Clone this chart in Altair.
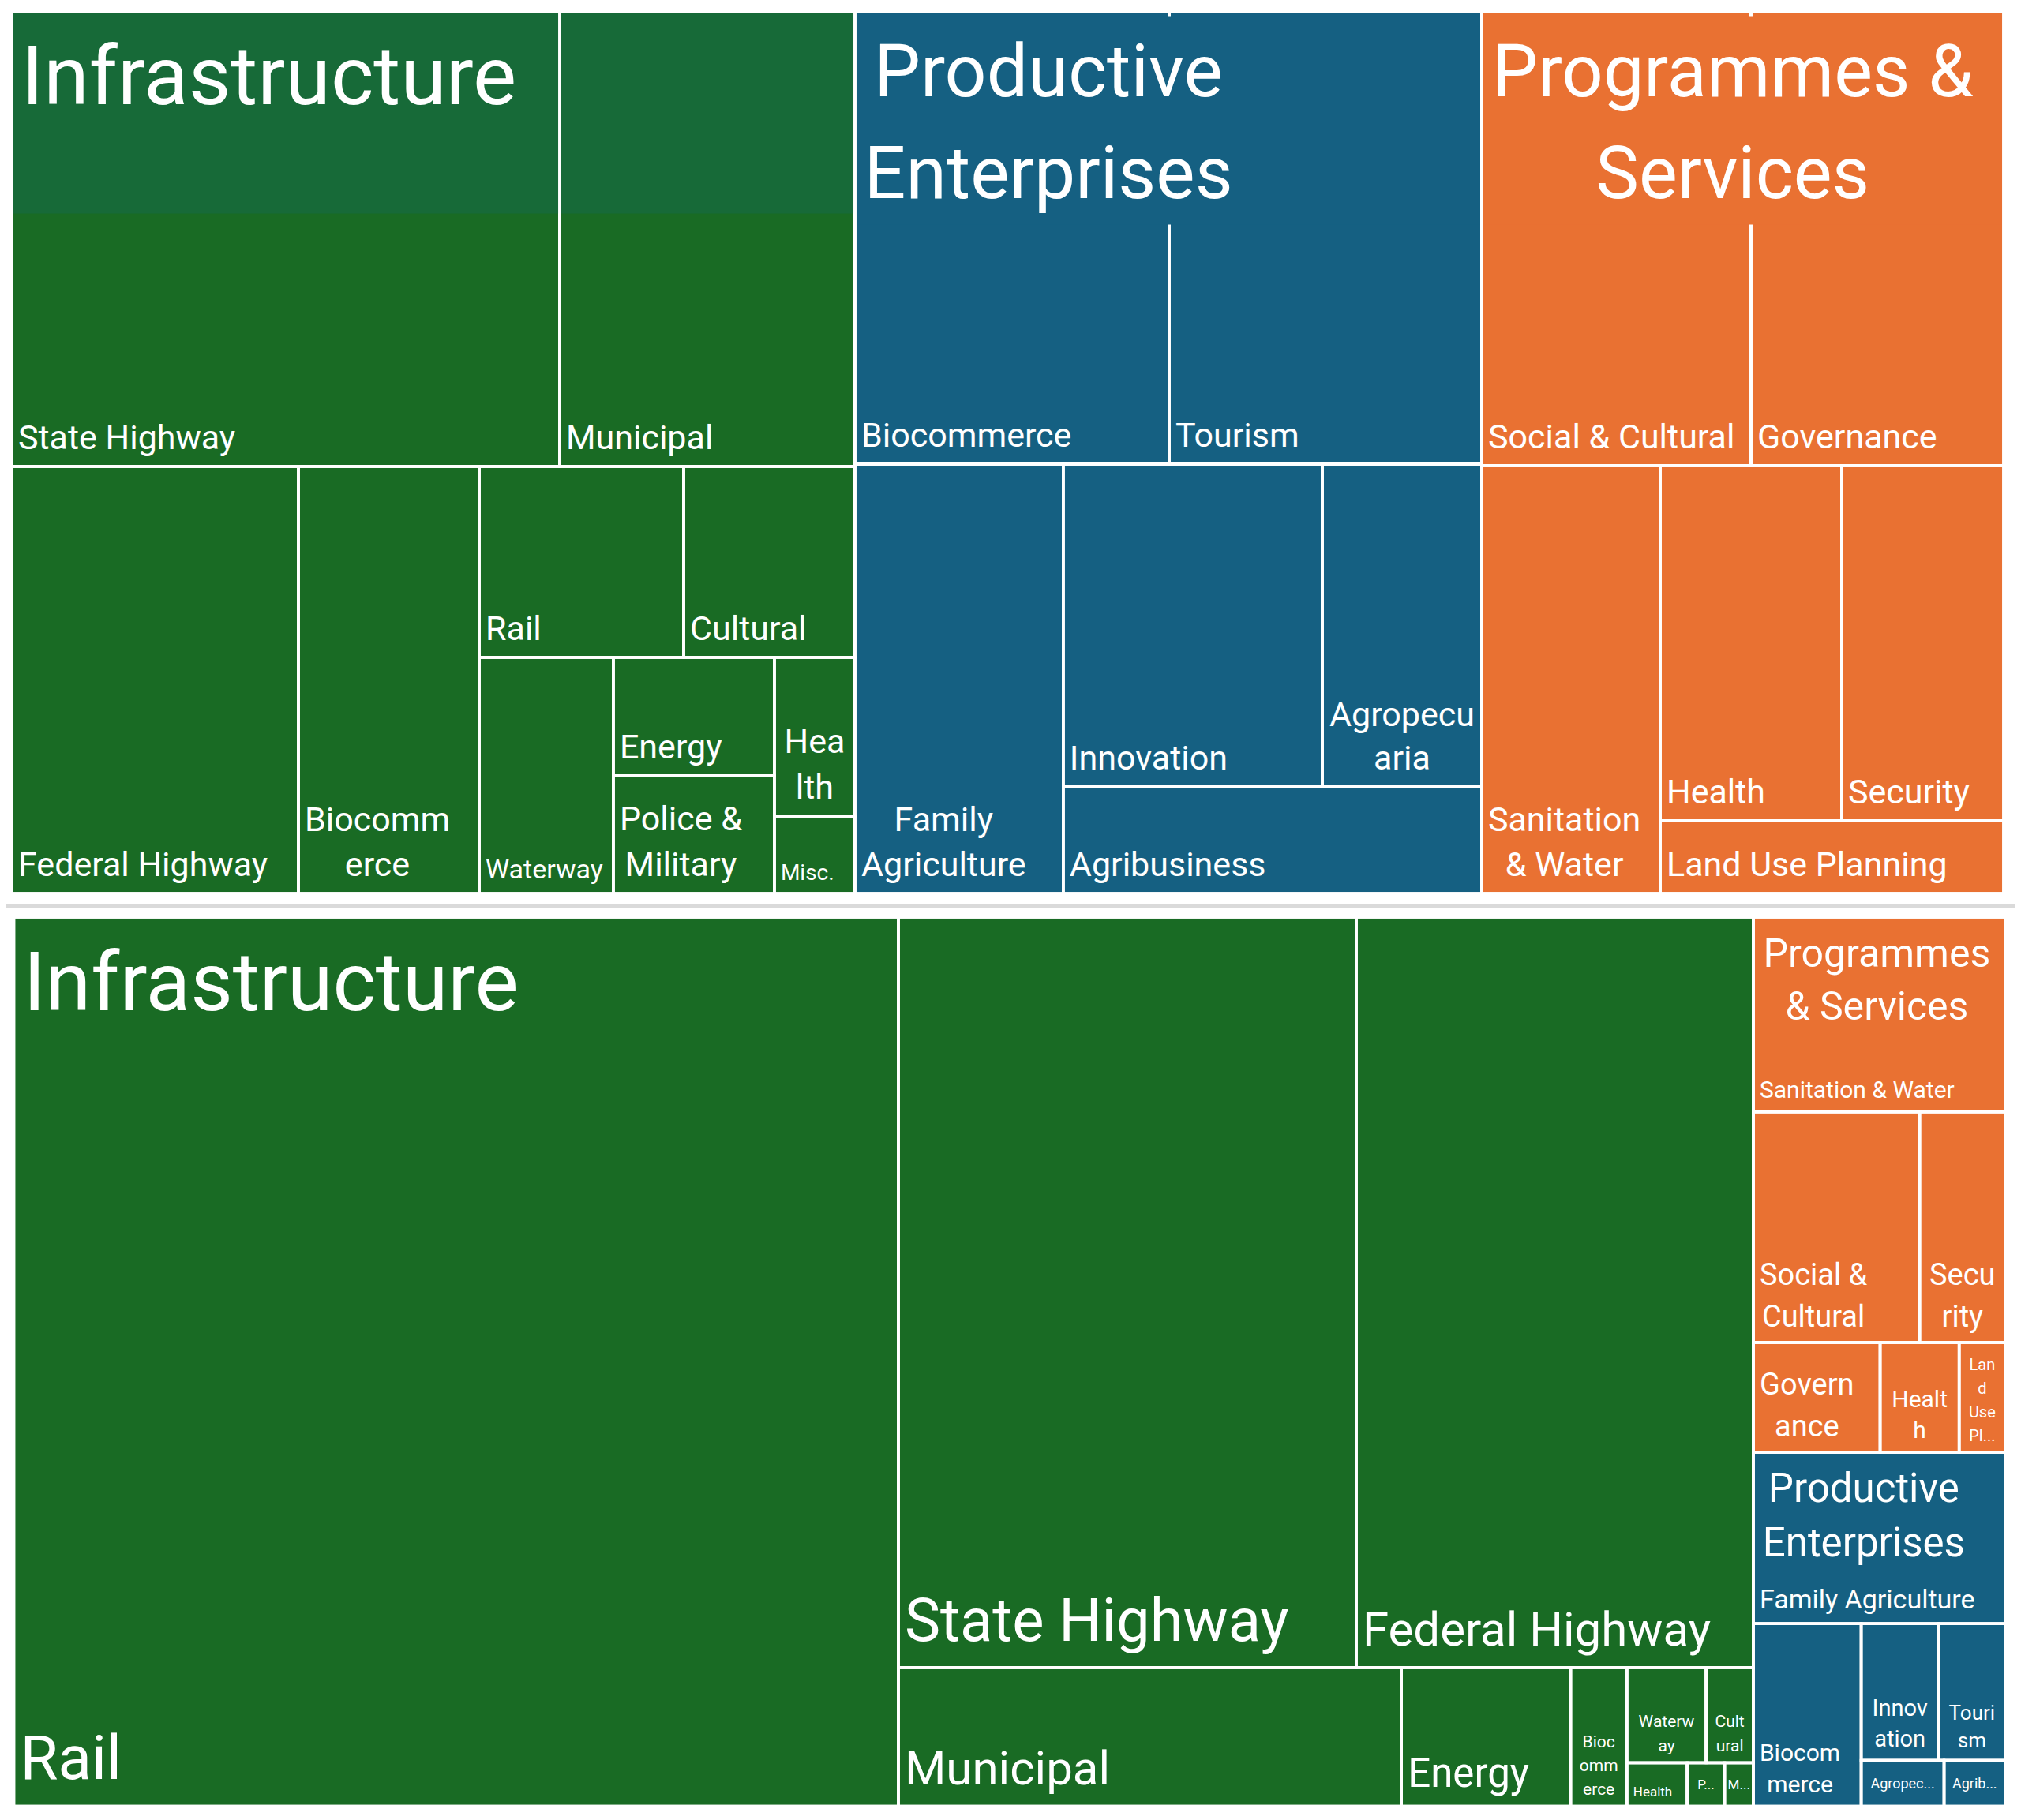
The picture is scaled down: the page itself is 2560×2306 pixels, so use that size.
import altair as alt
import pandas as pd

# ---------------- data ----------------
TOP_GROUP = ["Infrastructure"] * 11 + ["Productive Enterprises"] * 6 + ["Programmes & Services"] * 6
TOP_ITEM = ["State Highway", "Municipal", "Federal Highway", "Biocommerce", "Rail", "Cultural",
            "Waterway", "Energy", "Police & Military", "Health", "Misc.",
            "Biocommerce", "Tourism", "Family Agriculture", "Innovation", "Agropecuaria", "Agribusiness",
            "Social & Cultural", "Governance", "Sanitation & Water", "Health", "Security", "Land Use Planning"]
TOP_VALUE = [399.7, 215.4, 196.4, 123.9, 62.7, 52.5, 50.8, 30.6, 30.4, 20.5, 10.0,
             228.1, 226.9, 143.6, 134.2, 82.6, 71.6,
             196.1, 184.0, 122.5, 103.5, 92.3, 40.0]

BOTTOM_GROUP = ["Infrastructure"] * 11 + ["Programmes & Services"] * 6 + ["Productive Enterprises"] * 6
BOTTOM_ITEM = ["Rail", "State Highway", "Federal Highway", "Municipal", "Energy", "Biocommerce",
               "Waterway", "Cultural", "Health", "Police & Military", "Misc.",
               "Sanitation & Water", "Social & Cultural", "Security", "Governance", "Health", "Land Use Planning",
               "Family Agriculture", "Biocommerce", "Innovation", "Tourism", "Agropecuaria", "Agribusiness"]
BOTTOM_VALUE = [1262.2, 551.6, 478.4, 111.8, 37.6, 12.5, 12.1, 7.2, 4.2, 2.6, 2.0,
                78.7, 61.6, 31.7, 22.3, 13.9, 8.1,
                69.3, 31.6, 17.0, 14.6, 6.1, 4.5]

# ---------------- layout structure (split directions, sizes from values) ----------------
TOP_LAYOUT = ("h", [
    ("v", [("h", [0, 1]),
           ("h", [2, 3, ("v", [("h", [4, 5]), ("h", [6, ("v", [7, 8]), ("v", [9, 10])])])])]),
    ("v", [("h", [11, 12]), ("h", [13, ("v", [("h", [14, 15]), 16])])]),
    ("v", [("h", [17, 18]), ("h", [19, ("v", [("h", [20, 21]), 22])])]),
])
BOTTOM_LAYOUT = ("h", [
    ("h", [0, ("v", [("h", [1, 2]),
                     ("h", [3, 4, 5, ("v", [("h", [6, 7]), ("h", [8, 9, 10])])])])]),
    ("v", [
        ("v", [11, ("h", [12, 13]), ("h", [14, 15, 16])]),
        ("v", [17, ("h", [18, ("v", [("h", [19, 20]), ("h", [21, 22])])])]),
    ]),
])

TOP_FRAME = (15, 15, 2538, 1132)
BOTTOM_FRAME = (17.5, 1162, 2540, 2288.5)

COLORS = {"Infrastructure": "#196B24", "Productive Enterprises": "#156082",
          "Programmes & Services": "#E97132"}
BAND_COLOR = "#176A38"
FONT = "Roboto"

# ---------------- label styles: lines, font size, h-mode, v-mode, line height ----------------
TOP_LABELS = [
    (["State Highway"], 43, "left", "bottom", 0),
    (["Municipal"], 43, "left", "bottom", 0),
    (["Federal Highway"], 43, "left", "bottom", 0),
    (["Biocomm", "erce"], 43, "block", "bottom", 57),
    (["Rail"], 43, "left", "bottom", 0),
    (["Cultural"], 43, "left", "bottom", 0),
    (["Waterway"], 34, "left", "bottom", 0),
    (["Energy"], 43, "left", "bottom", 0),
    (["Police &", "Military"], 43, "block", "bottom", 58),
    (["Hea", "lth"], 43, "center", "bottom", 58),
    (["Misc."], 28, "left", "bottom", 0),
    (["Biocommerce"], 43, "left", "bottom", 0),
    (["Tourism"], 43, "left", "bottom", 0),
    (["Family", "Agriculture"], 43, "block", "bottom", 57),
    (["Innovation"], 43, "left", "bottom", 0),
    (["Agropecu", "aria"], 43, "center", "bottom", 55),
    (["Agribusiness"], 43, "left", "bottom", 0),
    (["Social & Cultural"], 43, "left", "bottom", 0),
    (["Governance"], 43, "left", "bottom", 0),
    (["Sanitation", "& Water"], 43, "block", "bottom", 57),
    (["Health"], 43, "left", "bottom", 0),
    (["Security"], 43, "left", "bottom", 0),
    (["Land Use Planning"], 43, "left", "bottom", 0),
]
BOTTOM_LABELS = [
    (["Rail"], 78, "left", "bottom", 0),
    (["State Highway"], 76, "left", "bottom", 0),
    (["Federal Highway"], 60, "left", "bottom", 0),
    (["Municipal"], 60, "left", "bottom", 0),
    (["Energy"], 51, "left", "bottom", 0),
    (["Bioc", "omm", "erce"], 21, "center", "bottom", 30),
    (["Waterw", "ay"], 21, "center", "bottom", 31),
    (["Cult", "ural"], 21, "center", "bottom", 31),
    (["Health"], 17, "left", "bottom", 0),
    (["P..."], 17, "center", "middle", 0),
    (["M..."], 17, "center", "middle", 0),
    (["Sanitation & Water"], 30, "left", "bottom", 0),
    (["Social &", "Cultural"], 38, "block", "bottom", 53),
    (["Secu", "rity"], 38, "center", "bottom", 53),
    (["Govern", "ance"], 38, "block", "bottom", 53),
    (["Healt", "h"], 30, "center", "bottom", 39),
    (["Lan", "d", "Use", "Pl..."], 20, "center", "bottom", 30),
    (["Family Agriculture"], 34, "left", "bottom", 0),
    (["Biocom", "merce"], 30, "block", "bottom", 40),
    (["Innov", "ation"], 29, "center", "bottom", 39),
    (["Touri", "sm"], 26, "center", "bottom", 35),
    (["Agropec..."], 18, "center", "middle", 0),
    (["Agrib..."], 18, "center", "middle", 0),
]
# parent titles: lines, size, mode, first-baseline offset, line spacing
TOP_TITLES = {
    "Infrastructure": (["Infrastructure"], 104, "left", 117, 0),
    "Productive Enterprises": (["Productive", "Enterprises"], 93, "block", 107, 129),
    "Programmes & Services": (["Programmes &", "Services"], 92, "block", 107, 129),
}
BOTTOM_TITLES = {
    "Infrastructure": (["Infrastructure"], 104, "left", 118, 0),
    "Programmes & Services": (["Programmes", "& Services"], 50, "block", 63, 66.5),
    "Productive Enterprises": (["Productive", "Enterprises"], 51, "block", 63, 69),
}

CHAR_W = {'a': .544, 'b': .56, 'c': .523, 'd': .551, 'e': .529, 'f': .347, 'g': .56, 'h': .551,
          'i': .243, 'j': .239, 'k': .507, 'l': .243, 'm': .876, 'n': .551, 'o': .57, 'p': .56,
          'q': .568, 'r': .338, 's': .516, 't': .327, 'u': .551, 'v': .484, 'w': .75, 'x': .496,
          'y': .474, 'z': .496, ' ': .248, '&': .62, '.': .263, 'A': .652, 'B': .622, 'C': .652,
          'D': .655, 'E': .568, 'F': .553, 'G': .68, 'H': .713, 'I': .272, 'L': .538, 'M': .873,
          'P': .631, 'R': .616, 'S': .594, 'T': .54, 'U': .648, 'W': .886}


def text_width(s, size):
    return sum(CHAR_W.get(ch, 0.55) for ch in s) * size


def total(node, vals):
    if isinstance(node, int):
        return vals[node]
    return sum(total(k, vals) for k in node[1])


def layout(node, vals, x0, y0, x1, y1, out):
    if isinstance(node, int):
        out[node] = (x0, y0, x1, y1)
        return
    d, kids = node
    s = total(node, vals)
    pos = x0 if d == "h" else y0
    for k in kids:
        f = total(k, vals) / s
        if d == "h":
            w = (x1 - x0) * f
            layout(k, vals, pos, y0, pos + w, y1, out)
        else:
            w = (y1 - y0) * f
            layout(k, vals, x0, pos, x1, pos + w, out)
        pos += w


cells, texts, bands, boxes_df = [], [], [], []
PADX = 8


def add_lines(lines, size, mode, x0, x1, last_baseline, lh, first_baseline=None):
    n = len(lines)
    if first_baseline is None:
        first_baseline = last_baseline - (n - 1) * lh
    maxw = max(text_width(s, size) for s in lines)
    for k, s in enumerate(lines):
        yb = first_baseline + k * lh
        if mode == "left":
            texts.append(dict(text=s, x=x0 + PADX, y=yb, size=size, align="left"))
        elif mode == "block":
            texts.append(dict(text=s, x=x0 + PADX + maxw / 2, y=yb, size=size, align="center"))
        else:
            texts.append(dict(text=s, x=(x0 + x1) / 2, y=yb, size=size, align="center"))


def build(chart, groups, items, values, tree, frame, labels, titles):
    boxes = {}
    layout(tree, values, *frame, boxes)
    ext = {}
    for i in range(len(items)):
        x0, y0, x1, y1 = boxes[i]
        cells.append(dict(chart=chart, group=groups[i], item=items[i], value=values[i],
                          x=x0, x2=x1, y=y0, y2=y1))
        g = ext.setdefault(groups[i], [x0, y0, x1, y1])
        g[0], g[1], g[2], g[3] = min(g[0], x0), min(g[1], y0), max(g[2], x1), max(g[3], y1)
        lines, size, hm, vm, lh = labels[i]
        if vm == "middle":
            add_lines(lines, size, hm, x0, x1, (y0 + y1) / 2 + 0.35 * size, lh)
        else:
            add_lines(lines, size, hm, x0, x1, y1 - (7 + 0.35 * size), lh)
    for grp, (gx0, gy0, gx1, gy1) in ext.items():
        lines, size, mode, off, lh = titles[grp]
        add_lines(lines, size, mode, gx0 + 4, gx1, None, lh, first_baseline=gy0 + off)
    return ext


top_ext = build("top", TOP_GROUP, TOP_ITEM, TOP_VALUE, TOP_LAYOUT, TOP_FRAME, TOP_LABELS, TOP_TITLES)
bot_ext = build("bottom", BOTTOM_GROUP, BOTTOM_ITEM, BOTTOM_VALUE, BOTTOM_LAYOUT, BOTTOM_FRAME,
                BOTTOM_LABELS, BOTTOM_TITLES)

# darker header band of Infrastructure (top chart) and opaque title boxes
ix0, iy0, ix1, iy1 = top_ext["Infrastructure"]
bands.append(dict(x=ix0, x2=ix1, y=iy0, y2=iy0 + 255.6, fill=BAND_COLOR))
for grp in ["Productive Enterprises", "Programmes & Services"]:
    gx0, gy0, gx1, gy1 = top_ext[grp]
    boxes_df.append(dict(x=gx0 + 2.5, x2=gx1 - 2.5, y=gy0 + 5.5, y2=gy0 + 269.5, group=grp))

cells = pd.DataFrame(cells)
texts = pd.DataFrame(texts)
bands = pd.DataFrame(bands)
boxes_df = pd.DataFrame(boxes_df)
frames = pd.DataFrame([
    dict(x=2556, y=8, x2=2556, y2=1147),
    dict(x=8, y=1147, x2=2556, y2=1147),
    dict(x=8, y=1149, x2=2553, y2=1149),
    dict(x=2553, y=1149, x2=2553, y2=2292),
])

XS = alt.Scale(domain=[8, 2552], nice=False, zero=False)
YS = alt.Scale(domain=[8, 2292], nice=False, zero=False, reverse=True)
color = alt.Color("group:N", scale=alt.Scale(domain=list(COLORS.keys()), range=list(COLORS.values())),
                  legend=None)

frame_layer = alt.Chart(frames).mark_rule(color="#dadada", strokeWidth=2).encode(
    x=alt.X("x:Q", scale=XS, axis=None), y=alt.Y("y:Q", scale=YS, axis=None),
    x2="x2:Q", y2="y2:Q")

cell_layer = alt.Chart(cells).mark_rect(stroke="white", strokeWidth=3.5).encode(
    x=alt.X("x:Q", scale=XS, axis=None), x2="x2:Q",
    y=alt.Y("y:Q", scale=YS, axis=None), y2="y2:Q",
    color=color,
    tooltip=["group:N", "item:N", "value:Q"])

band_layer = alt.Chart(bands).mark_rect().encode(
    x=alt.X("x:Q", scale=XS, axis=None), x2="x2:Q",
    y=alt.Y("y:Q", scale=YS, axis=None), y2="y2:Q",
    fill=alt.Fill("fill:N", scale=None))

outline_layer = alt.Chart(cells).mark_rect(stroke="white", strokeWidth=3.5, fillOpacity=0).encode(
    x=alt.X("x:Q", scale=XS, axis=None), x2="x2:Q",
    y=alt.Y("y:Q", scale=YS, axis=None), y2="y2:Q")

box_layer = alt.Chart(boxes_df).mark_rect().encode(
    x=alt.X("x:Q", scale=XS, axis=None), x2="x2:Q",
    y=alt.Y("y:Q", scale=YS, axis=None), y2="y2:Q",
    color=color)

text_left = alt.Chart(texts[texts["align"] == "left"]).mark_text(
    align="left", baseline="alphabetic", color="white", font=FONT).encode(
    x=alt.X("x:Q", scale=XS, axis=None), y=alt.Y("y:Q", scale=YS, axis=None),
    text="text:N", size=alt.Size("size:Q", scale=None, legend=None))

text_center = alt.Chart(texts[texts["align"] == "center"]).mark_text(
    align="center", baseline="alphabetic", color="white", font=FONT).encode(
    x=alt.X("x:Q", scale=XS, axis=None), y=alt.Y("y:Q", scale=YS, axis=None),
    text="text:N", size=alt.Size("size:Q", scale=None, legend=None))

chart = alt.layer(frame_layer, cell_layer, band_layer, outline_layer, box_layer,
                  text_left, text_center).properties(
    width=2544, height=2284, padding=0,
    autosize=alt.AutoSizeParams(type="none"),
    background="white",
).configure_view(stroke=None)

chart.save("out.html", embed_options={"renderer": "svg", "actions": False})
